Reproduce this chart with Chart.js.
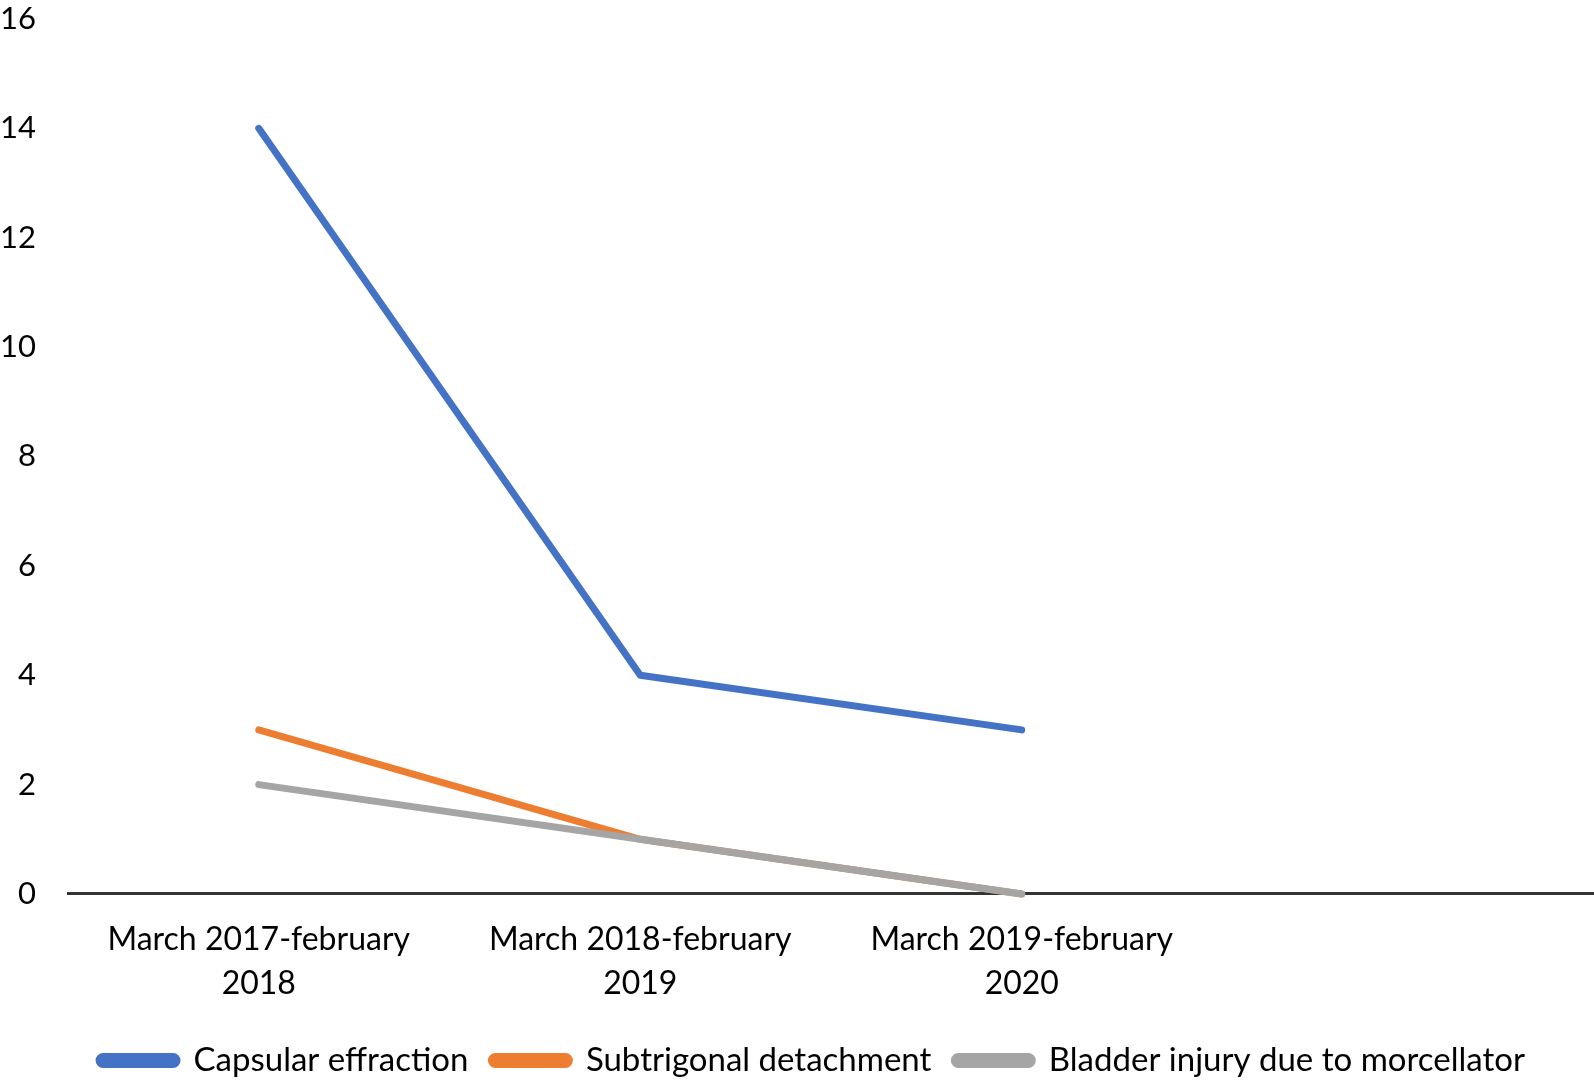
<!DOCTYPE html>
<html>
<head>
<meta charset="utf-8">
<script src="https://cdn.jsdelivr.net/npm/chart.js@4.4.0/dist/chart.umd.min.js"></script>
<style>
  html, body { margin: 0; padding: 0; background: #fff; }
  #wrap { width: 1594px; height: 1082px; }
</style>
</head>
<body>
<div id="wrap"><canvas id="chart"></canvas></div>
<script>
const periods = [
  ['March 2017-february', '2018'],
  ['March 2018-february', '2019'],
  ['March 2019-february', '2020'],
  '',
];
const capsularEffraction = [14, 4, 3, null];
const subtrigonalDetachment = [3, 1, 0, null];
const bladderInjury = [2, 1, 0, null];
const yTicks = [0, 2, 4, 6, 8, 10, 12, 14, 16];

const font = 'Lato, "Open Sans", sans-serif';

// gray is drawn on top of orange where they overlap, so it gets the lowest order
function series(label, data, color, order) {
  return {
    label: label,
    data: data,
    order: order,
    borderColor: color,
    backgroundColor: color,
    borderWidth: 7,
    pointRadius: 0,
    tension: 0,
    clip: false,
    borderCapStyle: 'round',
    borderJoinStyle: 'round',
  };
}

// nudge the legend a little to the right, like the original
const legendShift = {
  id: 'legendShift',
  afterLayout(chart) {
    chart.legend.left += 15;
    chart.legend.right += 15;
  },
};

const ctx = document.getElementById('chart');
new Chart(ctx, {
  type: 'line',
  data: {
    labels: periods,
    datasets: [
      series('Capsular effraction', capsularEffraction, '#4472C4', 1),
      series('Subtrigonal detachment', subtrigonalDetachment, '#ED7D31', 2),
      series('Bladder injury due to morcellator', bladderInjury, '#A5A5A5', 0),
    ],
  },
  plugins: [legendShift],
  options: {
    responsive: true,
    maintainAspectRatio: false,
    animation: false,
    layout: { padding: { top: 19, right: 0, left: 0, bottom: -5 } },
    plugins: {
      tooltip: { enabled: false },
      legend: {
        position: 'bottom',
        labels: {
          color: '#000',
          font: { family: font, size: 33 },
          boxWidth: 78,
          boxHeight: 8,
          padding: 23,
          useBorderRadius: true,
          borderRadius: 4,
          sort: (a, b) => a.datasetIndex - b.datasetIndex,
        },
      },
    },
    scales: {
      x: {
        offset: true,
        grid: { display: false },
        border: { display: true, color: '#333', width: 3 },
        ticks: {
          color: '#000',
          font: { family: font, size: 32, lineHeight: 1.36 },
          maxRotation: 0,
          autoSkip: false,
          padding: 16,
        },
      },
      y: {
        min: 0,
        max: 16,
        afterBuildTicks: (axis) => {
          axis.ticks = yTicks.map((v) => ({ value: v }));
        },
        afterFit: (axis) => {
          axis.width = 68;
          axis.paddingTop = 0;
          axis.paddingBottom = 0;
        },
        grid: { display: false },
        border: { display: false },
        ticks: {
          color: '#000',
          font: { family: font, size: 31 },
          padding: 24,
        },
      },
    },
  },
});
</script>
</body>
</html>
